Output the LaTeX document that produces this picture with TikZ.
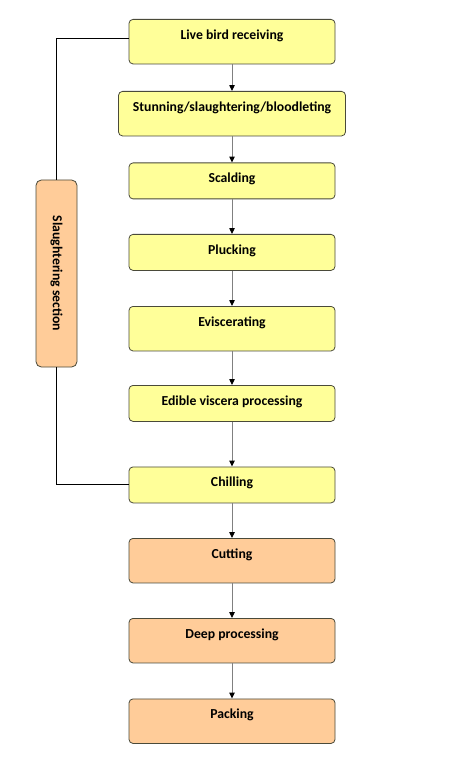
\documentclass[tikz,border=0pt]{standalone}
\usepackage{fontspec}
\setmainfont{Carlito}
\usetikzlibrary{arrows.meta,calc}
\definecolor{boxyellow}{HTML}{FFFF99}
\definecolor{boxorange}{HTML}{FFCC99}
\definecolor{boxline}{HTML}{4A4A3A}
\begin{document}
\begin{tikzpicture}[x=0.75pt,y=-0.75pt,
  stepbox/.style={draw=boxline, line width=0.6pt, rounded corners=3pt,
    minimum width=154.5pt, inner xsep=0pt, inner ysep=0pt, text height=15pt,
    font=\fontsize{10.3}{12}\selectfont\bfseries, anchor=north},
  tallbox/.style={text depth=18.4pt},
  shortbox/.style={text depth=12pt},
  ylw/.style={fill=boxyellow},
  org/.style={fill=boxorange},
  sidebox/.style={draw=boxline, line width=0.6pt, rounded corners=4pt, fill=boxorange,
    rotate=-90, minimum width=140.25pt, minimum height=30.75pt, inner sep=0pt,
    font=\fontsize{10.3}{12}\selectfont\bfseries},
  flow/.style={draw=black!50, line width=0.7pt, -{Triangle[length=4.4pt,width=4pt,color=black]}},
  link/.style={draw=black, line width=0.75pt},
]
\useasboundingbox[fill=white] (0,0) rectangle (473,773);

\node[stepbox,tallbox,ylw] (live) at (232,19) {Live bird receiving};
\node[stepbox,tallbox,ylw,minimum width=170.25pt] (stun) at (232,91) {Stunning/slaughtering/bloodleting};
\node[stepbox,shortbox,ylw] (scald) at (232,162.5) {Scalding};
\node[stepbox,shortbox,ylw] (pluck) at (232,234) {Plucking};
\node[stepbox,tallbox,ylw] (evisc) at (232,306) {Eviscerating};
\node[stepbox,shortbox,ylw] (edible) at (232,385) {Edible viscera processing};
\node[stepbox,shortbox,ylw] (chill) at (232,466.5) {Chilling};
\node[stepbox,tallbox,org] (cut) at (232,538) {Cutting};
\node[stepbox,tallbox,org] (deep) at (232,618) {Deep processing};
\node[stepbox,tallbox,org] (pack) at (232,698.5) {Packing};

\node[sidebox] (sect) at (56.5,273.5) {Slaughtering section};

\draw[flow] (live.south) -- (stun.north);
\draw[flow] (stun.south) -- (scald.north);
\draw[flow] (scald.south) -- (pluck.north);
\draw[flow] (pluck.south) -- (evisc.north);
\draw[flow] (evisc.south) -- (edible.north);
\draw[flow] (edible.south) -- (chill.north);
\draw[flow] (chill.south) -- (cut.north);
\draw[flow] (cut.south) -- (deep.north);
\draw[flow] (deep.south) -- (pack.north);

\draw[link] ($(live.west)+(0,-3)$) -| (sect.west);
\draw[link] (sect.east) |- (chill.west);
\end{tikzpicture}
\end{document}
